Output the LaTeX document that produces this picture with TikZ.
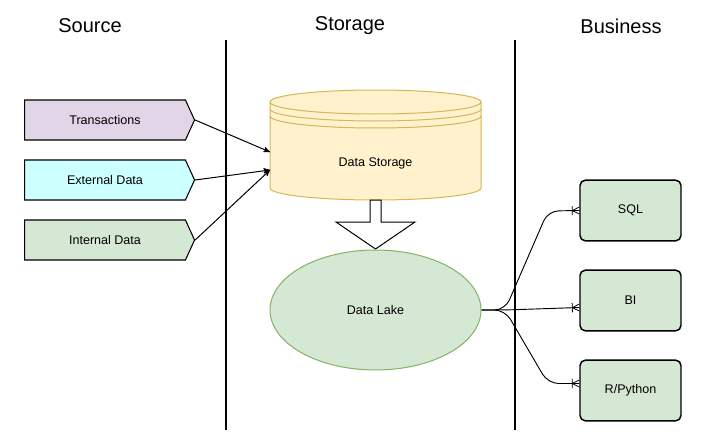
\documentclass[tikz,border=0pt]{standalone}
\usepackage{fontspec}
\setmainfont{Liberation Sans}
\usetikzlibrary{%
  arrows,%
  shapes,%
  shapes.geometric,% ellipse
  shapes.symbols,% signal
  calc,
  decorations.markings
}
\definecolor{srcpurple}{HTML}{E1D5E7}
\definecolor{srccyan}{HTML}{CCFFFF}
\definecolor{lakegreen}{HTML}{D5E8D4}
\definecolor{lakeedge}{HTML}{82B366}
\definecolor{storefill}{HTML}{FFF2CC}
\definecolor{storeedge}{HTML}{D6B656}

\begin{document}
\begin{tikzpicture}[
  x=0.75pt, y=0.75pt,
  font=\fontsize{9.4}{11}\selectfont, >=stealth',
  header/.style={font=\fontsize{15}{18}\selectfont},
  source/.style={signal, signal to=east, signal pointer angle=131, minimum width=127.5pt, minimum height=30pt, draw=black, line width=0.8pt, inner sep=0pt},
  tool/.style={rectangle, rounded corners=4pt, minimum width=75.75pt, minimum height=45.5pt, draw=black, line width=1.1pt, fill=lakegreen},
  divider/.style={line width=1.5pt},
  feed/.style={->, line width=0.75pt},
  erfoot/.style={line width=0.7pt, rounded corners=8pt, postaction={decorate, decoration={markings, mark=at position 1 with {
    \draw[line width=0.6pt, sharp corners] (-5.25pt,0) -- (0,2.6pt) (-5.25pt,0) -- (0,-2.6pt) (-5.25pt,-3.4pt) -- (-5.25pt,3.4pt);}}}}
]
\useasboundingbox (0,0) rectangle (711,-432);

% column titles
\node[header] (hsource) at (90,-26) {Source};
\node[header] (hstorage) at (350,-26) {Storage};
\node[header] (hbusiness) at (621,-26) {Business};

\draw[divider] (226,-40) -- (226,-430);
\draw[divider] (515,-40) -- (515,-430);

% sources
\node[source, fill=srcpurple] (trans) at (105,-120) {Transactions};
\node[source, fill=srccyan] (ext) at (105,-180) {External Data};
\node[source, fill=lakegreen] (int) at (105,-240) {Internal Data};

% data storage
\draw[draw=storeedge, fill=storefill, line width=0.75pt] (270,-102) -- (270,-188)
  arc[start angle=180, end angle=360, x radius=79.125pt, y radius=9pt] -- (481,-102)
  arc[start angle=0, end angle=180, x radius=79.125pt, y radius=9pt] -- cycle;
\foreach \dy in {0,7,14}
  \draw[draw=storeedge, line width=0.75pt] (270,{-102-\dy}) arc[start angle=180, end angle=360, x radius=79.125pt, y radius=9pt];
\node (ds) at (375.5,-163) {Data Storage};
\coordinate (dsin1) at (270,-152);
\coordinate (dsin2) at (270,-170);

\draw[feed] (trans.east) -- (dsin1);
\draw[feed] (ext.east) -- (dsin2);
\draw[feed] (int.east) -- (dsin2);

% block arrow down
\draw[fill=white, line width=0.75pt] (370,-200) -- (370,-222) -- (336,-222) -- (375.5,-249)
  -- (415,-222) -- (381,-222) -- (381,-200) -- cycle;

\node[ellipse, draw=lakeedge, fill=lakegreen, line width=0.75pt, minimum width=158.25pt, minimum height=90pt] (lake) at (375.5,-310) {Data Lake};

% business
\node[tool] (sql) at (630.5,-210.5) {SQL};
\node[tool] (bi) at (630.5,-300.5) {BI};
\node[tool] (rpy) at (630.5,-390.5) {R/Python};

\coordinate (fan) at (505,-310);
\draw[erfoot] (lake.east) -- (fan) -- (548,-211) -- (sql.west);
\draw[erfoot] (lake.east) -- (fan) -- ($(bi.west)+(0,-7)$);
\draw[erfoot] (lake.east) -- (fan) -- (548,-383.5) -- ($(rpy.west)+(0,7)$);
\end{tikzpicture}
\end{document}
